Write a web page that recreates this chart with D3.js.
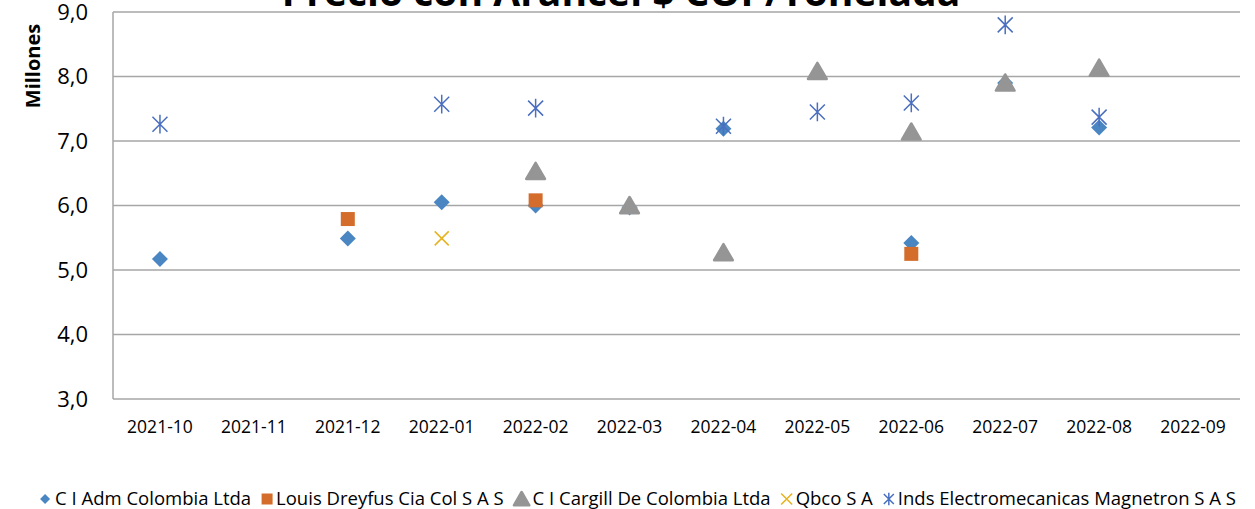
<!DOCTYPE html>
<html>
<head>
<meta charset="utf-8">
<title>Precio con Arancel</title>
<script src="https://cdn.jsdelivr.net/npm/d3@7"></script>
<style>
  body { margin: 0; background: white; }
  svg { display: block; font-family: "Open Sans", "Noto Sans", sans-serif; }
  .grid line { stroke: #a6a6a6; stroke-width: 1.5; }
</style>
</head>
<body>
<svg id="chart" width="1255" height="509"></svg>
<script>
    // data (millones COP / tonelada)
    var months = ["2021-10", "2021-11", "2021-12", "2022-01", "2022-02", "2022-03",
                  "2022-04", "2022-05", "2022-06", "2022-07", "2022-08", "2022-09"]
    var yTicks = [3, 4, 5, 6, 7, 8, 9]

    var admValues      = [5.17, null, 5.49, 6.05, 6.00, 5.97, 7.19, null, 5.42, 7.90, 7.21, null]
    var dreyfusValues  = [null, null, 5.79, null, 6.08, null, null, null, 5.25, null, null, null]
    var cargillValues  = [null, null, null, null, 6.53, 6.00, 5.27, 8.08, 7.14, 7.90, 8.13, null]
    var qbcoValues     = [null, null, null, 5.49, null, null, null, null, null, null, null, null]
    var magnetronValues= [7.26, null, null, 7.57, 7.51, null, 7.23, 7.45, 7.59, 8.80, 7.37, null]

    var seriesNames  = ["C I Adm Colombia Ltda", "Louis Dreyfus Cia Col S A S", "C I Cargill De Colombia Ltda",
                        "Qbco S A", "Inds Electromecanicas Magnetron S A S"]
    var seriesColors = ["#4a86c2", "#d46d2b", "#959595", "#e8b21e", "#4a6fc0"]
    var seriesShapes = ["diamond", "square", "triangle", "cross", "star"]
    var seriesValues = [admValues, dreyfusValues, cargillValues, qbcoValues, magnetronValues]

    var svg = d3.select("#chart")
    var plotLeft = 113, plotRight = 1240, plotTop = 12, plotBottom = 399

    var x = d3.scaleBand().domain(months).range([plotLeft, plotRight])
    var y = d3.scaleLinear().domain([3, 9]).range([plotBottom, plotTop])

    // gridlines
    svg.append("g").attr("class", "grid")
        .selectAll("line").data(yTicks).enter().append("line")
        .attr("x1", plotLeft).attr("x2", plotRight)
        .attr("y1", d => y(d)).attr("y2", d => y(d))

    svg.append("line")
        .attr("x1", plotLeft).attr("x2", plotLeft).attr("y1", plotTop).attr("y2", plotBottom)
        .style("stroke", "#a6a6a6").style("stroke-width", 1.5)

    // y labels
    svg.append("g").selectAll("text").data(yTicks).enter().append("text")
        .attr("x", 88).attr("y", d => y(d))
        .attr("dy", "0.36em")
        .attr("text-anchor", "end")
        .style("font-size", "22px")
        .text(d => d3.format(".1f")(d).replace(".", ","))

    // x labels
    svg.append("g").selectAll("text").data(months).enter().append("text")
        .attr("x", d => x(d) + x.bandwidth() / 2).attr("y", 433)
        .attr("text-anchor", "middle")
        .style("font-size", "17.5px")
        .text(d => d)

    svg.append("text")
        .attr("transform", "translate(40,66) rotate(-90)")
        .attr("text-anchor", "middle")
        .style("font-size", "20px").style("font-weight", "bold")
        .text("Millones")

    svg.append("text")
        .attr("x", 621).attr("y", 5.5)
        .attr("text-anchor", "middle")
        .style("font-size", "39px").style("font-weight", "bold")
        .text("Precio con Arancel $ COP/Tonelada")

    function drawMarker(g, shape, color, s) {
        if (shape == "diamond") {
            g.append("path").attr("d", "M0," + (-s) + "L" + s + ",0L0," + s + "L" + (-s) + ",0Z")
                .style("fill", color)
        } else if (shape == "square") {
            g.append("rect").attr("x", -s).attr("y", -s).attr("width", 2 * s).attr("height", 2 * s)
                .style("fill", color)
        } else if (shape == "triangle") {
            g.append("path").attr("d", "M0," + (-s) + "L" + (s * 1.1) + "," + (s * 0.9) + "L" + (-s * 1.1) + "," + (s * 0.9) + "Z")
                .style("fill", color).style("stroke", color).style("stroke-width", 2.5)
                .style("stroke-linejoin", "round")
        } else if (shape == "cross") {
            g.append("path").attr("d", "M" + (-s) + "," + (-s) + "L" + s + "," + s + "M" + s + "," + (-s) + "L" + (-s) + "," + s)
                .style("stroke", color).style("stroke-width", 1.5).style("fill", "none")
        } else {
            g.append("path").attr("d", "M" + (-s) + "," + (-s) + "L" + s + "," + s + "M" + s + "," + (-s) + "L" + (-s) + "," + s
                    + "M0," + (-s * 1.25) + "L0," + (s * 1.25))
                .style("stroke", color).style("stroke-width", 1.5).style("fill", "none")
        }
    }

    var markerSize = [8, 7, 8.5, 7, 7.5]

    for (var i = 0; i < seriesValues.length; i++) {
        var pts = months.map((m, j) => ({ m: m, v: seriesValues[i][j] })).filter(d => d.v != null)
        var gs = svg.append("g")
        for (var p of pts) {
            var g = gs.append("g")
                .attr("transform", "translate(" + (x(p.m) + x.bandwidth() / 2) + "," + y(p.v) + ")")
            drawMarker(g, seriesShapes[i], seriesColors[i], markerSize[i])
        }
    }

    // legend
    var legend = svg.append("g")
    var lx = 0
    var legendSizes = [5, 5.5, 7, 5.5, 5]
    var legendIcon = [7, 6, 8, 6, 6]
    for (var i = 0; i < seriesNames.length; i++) {
        var item = legend.append("g").attr("transform", "translate(" + lx + ",0)")
        drawMarker(item.append("g").attr("transform", "translate(" + legendIcon[i] + ",0)"), seriesShapes[i], seriesColors[i], legendSizes[i])
        var t = item.append("text").attr("x", 2 * legendIcon[i] + 3).attr("dy", "0.35em")
            .style("font-size", "18.5px").text(seriesNames[i])
        lx += 2 * legendIcon[i] + 3 + t.node().getComputedTextLength() + 10
    }
    var legendW = lx - 10
    legend.attr("transform", "translate(" + (637 - legendW / 2) + ",499)")
</script>
</body>
</html>
